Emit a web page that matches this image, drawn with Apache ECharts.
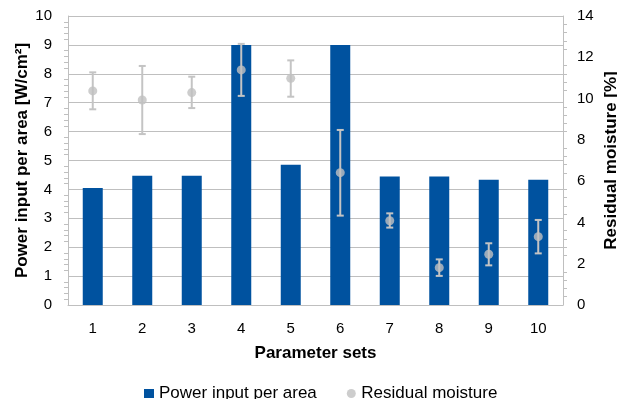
<!DOCTYPE html>
<html>
<head>
<meta charset="utf-8">
<script src="https://cdn.jsdelivr.net/npm/echarts@6/dist/echarts.min.js"></script>
<style>html,body{margin:0;padding:0;background:#fff}#c{width:617px;height:399px}</style>
</head>
<body>
<div id="c"></div>
<script>
var categories = ['1','2','3','4','5','6','7','8','9','10'];
var powerInput = [4.05, 4.47, 4.47, 9.0, 4.85, 9.0, 4.45, 4.45, 4.33, 4.33];
var moisture = [10.37, 9.93, 10.29, 11.39, 10.98, 6.41, 4.08, 1.81, 2.46, 3.31];
var moistureHigh = [11.27, 11.58, 11.06, 12.65, 11.85, 8.48, 4.44, 2.21, 2.99, 4.12];
var moistureLow = [9.48, 8.28, 9.54, 10.13, 10.09, 4.33, 3.75, 1.41, 1.92, 2.50];

var errData = categories.map(function(c, i){ return [i, moistureLow[i], moistureHigh[i]]; });
var font = 'Liberation Sans, Arial, sans-serif';
var chart = echarts.init(document.getElementById('c'));
chart.setOption({
  animation: false,
  textStyle: {fontFamily: font},
  grid: {left: 68, right: 54, top: 16, bottom: 94, outerBoundsMode: 'none', containLabel: false},
  legend: {
    top: 380, left: 139, itemGap: 30, itemWidth: 10, itemHeight: 9,
    textStyle: {fontSize: 17, color: '#000', fontFamily: font},
    data: [{name: 'Power input per area', icon: 'rect'}, {name: 'Residual moisture', icon: 'circle'}]
  },
  xAxis: {
    type: 'category', data: categories,
    axisLine: {lineStyle: {color: '#bfbfbf'}},
    axisTick: {show: false},
    axisLabel: {fontSize: 15, color: '#000', margin: 16},
    name: 'Parameter sets', nameLocation: 'middle', nameGap: 40, nameMoveOverlap: false,
    nameTextStyle: {fontSize: 17, fontWeight: 'bold', color: '#000'}
  },
  yAxis: [{
    type: 'value', min: 0, max: 10, interval: 1,
    axisLine: {show: true, lineStyle: {color: '#bfbfbf'}},
    axisTick: {show: false},
    minorTick: {show: true, splitNumber: 5, length: 4, lineStyle: {color: '#bfbfbf'}},
    splitLine: {lineStyle: {color: '#bfbfbf'}},
    axisLabel: {fontSize: 15, color: '#000', margin: 16},
    name: 'Power input per area [W/cm²]', nameLocation: 'middle', nameGap: 37, nameRotate: 90,
    nameMoveOverlap: false,
    nameTextStyle: {fontSize: 17, fontWeight: 'bold', color: '#000'}
  }, {
    type: 'value', min: 0, max: 14, interval: 2, position: 'right',
    axisLine: {show: true, lineStyle: {color: '#bfbfbf'}},
    axisTick: {show: false},
    minorTick: {show: true, splitNumber: 5, length: 4, lineStyle: {color: '#bfbfbf'}},
    splitLine: {show: false},
    axisLabel: {fontSize: 15, color: '#000', margin: 14},
    name: 'Residual moisture [%]', nameLocation: 'middle', nameGap: 40, nameRotate: 90,
    nameMoveOverlap: false,
    nameTextStyle: {fontSize: 17, fontWeight: 'bold', color: '#000'}
  }],
  series: [{
    name: 'Power input per area', type: 'bar', data: powerInput, barWidth: 20,
    itemStyle: {color: '#00529f'}
  }, {
    name: 'Residual moisture err', type: 'custom', yAxisIndex: 1, data: errData,
    renderItem: function(params, api){
      var x = api.value(0);
      var lo = api.coord([x, api.value(1)]);
      var hi = api.coord([x, api.value(2)]);
      var w = 3.5;
      var st = {stroke: '#c4c4c4', lineWidth: 2};
      return {type: 'group', children: [
        {type: 'line', shape: {x1: lo[0], y1: lo[1], x2: hi[0], y2: hi[1]}, style: st},
        {type: 'line', shape: {x1: lo[0]-w, y1: lo[1], x2: lo[0]+w, y2: lo[1]}, style: st},
        {type: 'line', shape: {x1: hi[0]-w, y1: hi[1], x2: hi[0]+w, y2: hi[1]}, style: st}
      ]};
    },
    z: 3
  }, {
    name: 'Residual moisture', type: 'scatter', yAxisIndex: 1, data: moisture,
    symbol: 'circle', symbolSize: 9, itemStyle: {color: '#c0c0c0'}, z: 4
  }]
});
</script>
</body>
</html>
